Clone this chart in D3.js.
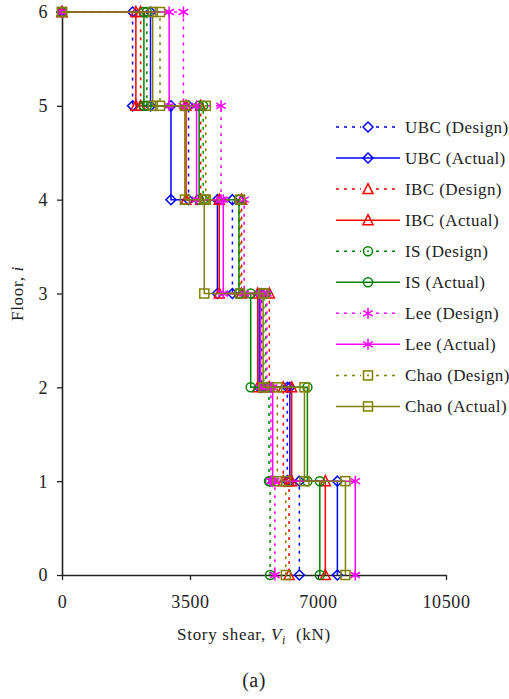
<!DOCTYPE html>
<html>
<head>
<meta charset="utf-8">
<script src="https://cdn.jsdelivr.net/npm/d3@7"></script>
<style>
  html, body { margin: 0; padding: 0; background: #fff; }
  svg { display: block; font-family: "Liberation Serif", "Times New Roman", serif; }
</style>
</head>
<body>
<svg id="chart" width="509" height="699"></svg>
<script>
// Story shear per storey (storey 1 = ground storey ... storey 6 = roof storey), kN
const storeys = [1, 2, 3, 4, 5, 6];
const ubcDesign  = [6490, 6160, 5460, 4660, 3460, 1930];
const ubcActual  = [7530, 6230, 5390, 4250, 2980, 2420];
const ibcDesign  = [6210, 6050, 5670, 4910, 3790, 2150];
const ibcActual  = [7200, 6280, 5350, 4300, 3390, 2020];
const isDesign   = [5690, 5660, 5570, 4840, 3860, 2320];
const isActual   = [7050, 6710, 5160, 4840, 3750, 2240];
const leeDesign  = [5820, 5710, 5600, 4980, 4350, 3320];
const leeActual  = [8020, 5760, 5430, 4410, 3680, 2930];
const chaoDesign = [6120, 5890, 5520, 4870, 3930, 2680];
const chaoActual = [7750, 6630, 5500, 3890, 3360, 2480];

const seriesNames = ["UBC (Design)", "UBC (Actual)", "IBC (Design)", "IBC (Actual)",
  "IS (Design)", "IS (Actual)", "Lee (Design)", "Lee (Actual)", "Chao (Design)", "Chao (Actual)"];
const seriesValues = [ubcDesign, ubcActual, ibcDesign, ibcActual, isDesign, isActual,
  leeDesign, leeActual, chaoDesign, chaoActual];

const xTicks = [0, 3500, 7000, 10500];
const yTicks = [0, 1, 2, 3, 4, 5, 6];

// Style per code (shared by design/actual pair)
const styles = {
  UBC:  { color: "#0000ff", marker: "diamond" },
  IBC:  { color: "#ff0000", marker: "triangle" },
  IS:   { color: "#008000", marker: "circle" },
  Lee:  { color: "#ff00ff", marker: "asterisk" },
  Chao: { color: "#808000", marker: "square" }
};

const svg = d3.select("#chart");
const margin = { left: 62, right: 63, top: 12, bottom: 124 };
const W = 509, H = 699;
const textColor = "#222";
const serif = "'Liberation Serif', 'Times New Roman', serif";

const x = d3.scaleLinear().domain([0, 10500]).range([margin.left, W - margin.right]);
const y = d3.scaleLinear().domain([0, 6]).range([H - margin.bottom, margin.top]);

// Axes
const xAxis = d3.axisBottom(x).tickValues(xTicks).tickSize(5).tickSizeOuter(0).tickFormat(d3.format("d"));
const yAxis = d3.axisLeft(y).tickValues(yTicks).tickSize(5).tickSizeOuter(0).tickFormat(d3.format("d"));

const gx = svg.append("g").attr("transform", `translate(0,${y(0)})`).call(xAxis);
const gy = svg.append("g").attr("transform", `translate(${x(0)},0)`).call(yAxis);
[gx, gy].forEach(g => {
  g.select(".domain").attr("stroke", textColor).attr("stroke-width", 1.6);
  g.selectAll(".tick line").attr("stroke", textColor).attr("stroke-width", 1.3);
  g.selectAll(".tick text").attr("fill", textColor)
    .style("font-family", serif).style("font-size", "18px").style("letter-spacing", "0.6px");
});
gx.selectAll(".tick text").attr("y", 17).attr("dy", "0.9em");
gy.selectAll(".tick text").attr("x", -14).attr("dy", "0.33em");

// Marker drawing
function drawMarker(g, kind, color, design) {
  const s = 4.5;
  const common = sel => sel.attr("fill", "none").attr("stroke", color).attr("stroke-width", 1.5);
  if (kind === "diamond") {
    common(g.append("path").attr("d", `M0,${-s - 0.5}L${s + 0.5},0L0,${s + 0.5}L${-s - 0.5},0Z`));
  } else if (kind === "triangle") {
    common(g.append("path").attr("d", `M0,${-s - 1}L${s + 0.5},${s}L${-s - 0.5},${s}Z`));
  } else if (kind === "circle") {
    common(g.append("circle").attr("r", s));
    if (design) g.append("circle").attr("r", 0.9).attr("fill", color);
  } else if (kind === "square") {
    common(g.append("rect").attr("x", -s).attr("y", -s).attr("width", 2 * s).attr("height", 2 * s));
    if (design) g.append("rect").attr("x", -0.9).attr("y", -0.9).attr("width", 1.8).attr("height", 1.8).attr("fill", color);
  } else if (kind === "asterisk") {
    const a = s + 1;
    common(g.append("path").attr("d",
      `M0,${-a}L0,${a}M${-a * 0.87},${-a * 0.5}L${a * 0.87},${a * 0.5}M${-a * 0.87},${a * 0.5}L${a * 0.87},${-a * 0.5}`));
  }
}

const line = d3.line().x(d => x(d[0])).y(d => y(d[1]));

seriesNames.forEach((name, i) => {
  const code = name.split(" ")[0];
  const design = name.includes("Design");
  const st = styles[code];
  const vals = seriesValues[i];
  // Stepped profile: shear of storey k is constant between floors k-1 and k
  const pts = [[0, 6]];
  for (let k = storeys.length - 1; k >= 0; k--) {
    const v = vals[k];
    pts.push([v, storeys[k]]);
    pts.push([v, storeys[k] - 1]);
  }
  const g = svg.append("g");
  g.append("path").datum(pts).attr("d", line)
    .attr("fill", "none").attr("stroke", st.color).attr("stroke-width", 1.5)
    .attr("stroke-dasharray", design ? "3,5" : null);
  pts.forEach(p => {
    const mg = g.append("g").attr("transform", `translate(${x(p[0])},${y(p[1])})`);
    drawMarker(mg, st.marker, st.color, design);
  });
});

// Legend
const legend = svg.append("g");
seriesNames.forEach((name, i) => {
  const code = name.split(" ")[0];
  const design = name.includes("Design");
  const st = styles[code];
  const ly = 127 + i * 31.05;
  legend.append("line").attr("x1", 336).attr("x2", 400).attr("y1", ly).attr("y2", ly)
    .attr("stroke", st.color).attr("stroke-width", 1.5)
    .attr("stroke-dasharray", design ? "3,5" : null);
  if (design) {
    // clear the line behind the marker
    legend.append("rect").attr("x", 361).attr("y", ly - 6).attr("width", 14).attr("height", 12).attr("fill", "#fff");
  }
  const mg = legend.append("g").attr("transform", `translate(368,${ly})`);
  drawMarker(mg, st.marker, st.color, design);
  legend.append("text").attr("x", 405).attr("y", ly).attr("dy", "0.35em")
    .attr("fill", textColor).style("font-size", "17px").style("letter-spacing", "0.4px").text(name);
});

// Axis titles
const xt = svg.append("text").attr("x", x(5250)).attr("y", 640).attr("text-anchor", "middle")
  .attr("fill", textColor).style("font-size", "17px").style("letter-spacing", "0.7px");
xt.append("tspan").text("Story shear, ");
xt.append("tspan").style("font-style", "italic").text("V");
xt.append("tspan").style("font-style", "italic").style("font-size", "12px").attr("dy", 4).text("i");
xt.append("tspan").attr("dy", -4).text("\u00a0 (kN)");

const yt = svg.append("text").attr("transform", `translate(23,${y(3)}) rotate(-90)`)
  .attr("text-anchor", "middle").attr("fill", textColor).style("font-size", "17px").style("letter-spacing", "0.7px");
yt.append("tspan").text("Floor, ");
yt.append("tspan").style("font-style", "italic").text("i");

svg.append("text").attr("x", x(5250)).attr("y", 687).attr("text-anchor", "middle")
  .attr("fill", textColor).style("font-size", "20px").style("letter-spacing", "0.5px").text("(a)");
</script>
</body>
</html>
